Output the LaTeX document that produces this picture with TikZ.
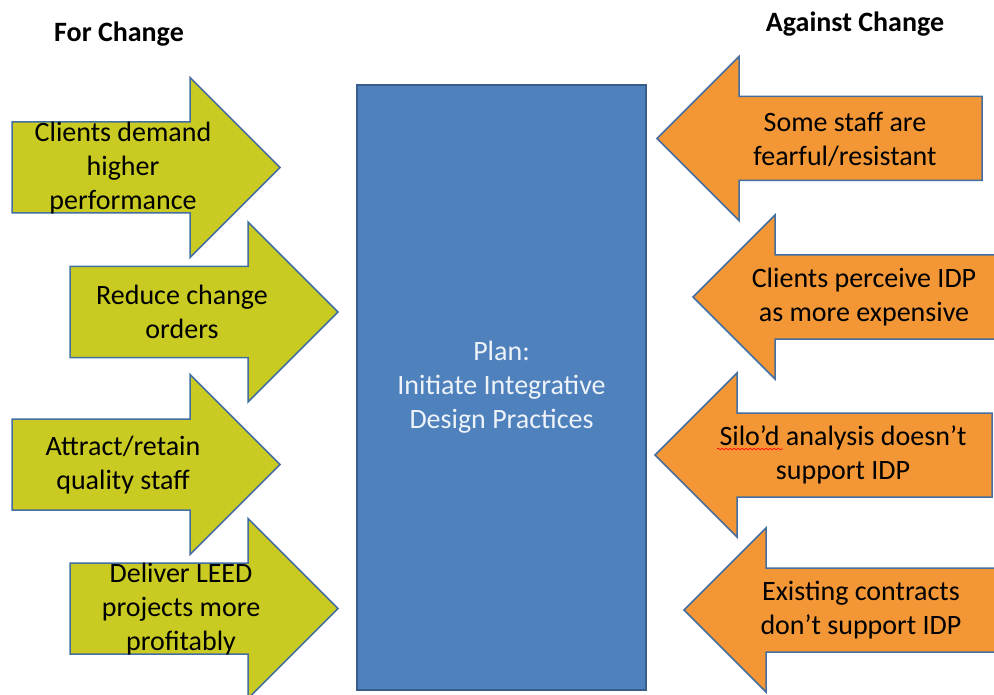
\documentclass[tikz,border=0pt]{standalone}
\usepackage{fontspec}
\setmainfont{Carlito}
\usetikzlibrary{positioning,decorations.pathmorphing}

\definecolor{forgreen}{RGB}{201,203,34}
\definecolor{agorange}{RGB}{243,151,54}
\definecolor{planblue}{RGB}{79,129,189}
\definecolor{planedge}{RGB}{56,93,138}
\definecolor{arrowedge}{RGB}{68,110,160}

\tikzset{
		forarrow/.style={fill=forgreen, draw=arrowedge, line width=1.5pt},
		agarrow/.style={fill=agorange, draw=arrowedge, line width=1.5pt},
		plan/.style={rectangle, fill=planblue, draw=planedge, line width=1.5pt,
			minimum width=289pt, minimum height=605pt, text=white!90!planblue,
			align=center, font=\fontsize{28}{34}\selectfont},
		annot/.style={align=center, text=black, inner sep=0pt,
			font=\fontsize{28}{34}\selectfont},
		heading/.style={font=\bfseries\fontsize{28}{34}\selectfont},
	}

% right-pointing block arrow: tail x, centre y
\newcommand{\forshape}[2]{%
	\draw[forarrow] (#1,#2-45.5) -- (#1+178,#2-45.5) -- (#1+178,#2-90)
		-- (#1+268,#2) -- (#1+178,#2+90) -- (#1+178,#2+45.5)
		-- (#1,#2+45.5) -- cycle;}

% left-pointing block arrow: tip x, centre y, tail x
\newcommand{\agshape}[3]{%
	\draw[agarrow] (#1,#2) -- (#1+82,#2-82) -- (#1+82,#2-42) -- (#3,#2-42)
		-- (#3,#2+42) -- (#1+82,#2+42) -- (#1+82,#2+82) -- cycle;}

\begin{document}
\begin{tikzpicture}[x=1pt, y=-1pt]
				\clip (0,0) rectangle (994,695);

				\node[heading] (for)     at (119,34) {For Change};
				\node[heading] (against) at (855,24) {Against Change};

				\node[plan] (plan) at (501.5,387.5) {Plan:\\Initiate Integrative\\Design Practices};

				% forces for change
				\forshape{12}{167.5}
				\forshape{70}{312}
				\forshape{12}{464.5}
				\forshape{70}{608.5}

				\node[annot] (demand)  at (123,168) {Clients demand\\higher\\performance};
				\node[annot] (orders)  at (182,312) {Reduce change\\orders};
				\node[annot] (staff)   at (123,465) {Attract/retain\\quality staff};
				\node[annot] (leed)    at (181,609) {Deliver LEED\\projects more\\profitably};

				% forces against change
				\agshape{657}{138.5}{982}
				\agshape{693}{297}{1010}
				\agshape{655}{455}{992}
				\agshape{684}{610}{1010}

				\node[annot] (fearful)  at (845,139) {Some staff are\\fearful/resistant};
				\node[annot] (cost)     at (864,297) {Clients perceive IDP\\as more expensive};
				\node[annot] (silo)     at (843,455) {Silo’d analysis doesn’t\\support IDP};
				\node[annot] (contract) at (861,610) {Existing contracts\\don’t support IDP};

				\draw[red, line width=0.6pt, decorate,
					decoration={snake, amplitude=0.8pt, segment length=4pt}]
					(717,449) -- (783,449);

\end{tikzpicture}
\end{document}
